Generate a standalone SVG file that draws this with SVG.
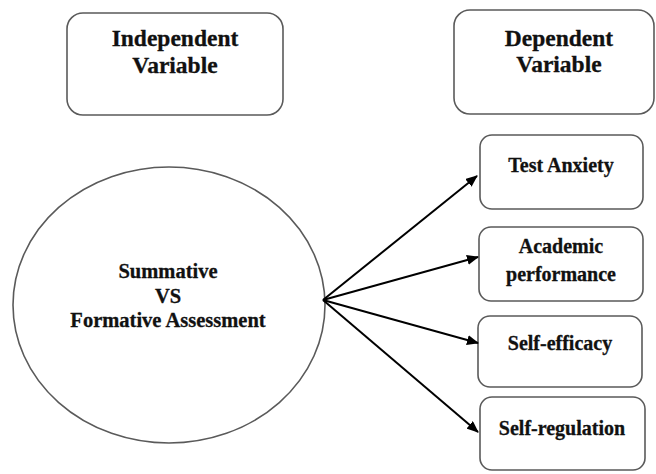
<svg xmlns="http://www.w3.org/2000/svg" width="656" height="474" viewBox="0 0 656 474">
<style>
.box{fill:#fff;stroke:#5a5a5a;stroke-width:1.6}
.t{font-family:"Liberation Serif","Times New Roman",serif;font-weight:bold;fill:#111;text-anchor:middle;stroke:#111;stroke-width:0.3}
.h{font-size:23.5px}
.s{font-size:20px}
.e{font-size:20.5px}
.c{stroke:#000;stroke-width:2;fill:none}
</style>
<defs>
<marker id="ah" viewBox="0 0 12 10" refX="11" refY="5" markerWidth="12" markerHeight="10" markerUnits="userSpaceOnUse" orient="auto">
<path d="M0,0 L12,5 L0,10 Z" fill="#000"/>
</marker>
</defs>
<rect width="656" height="474" fill="#fff"/>
<g id="independent">
<rect class="box" x="67" y="13" width="216" height="102" rx="16"/>
<text class="t h" x="175" y="46">Independent</text>
<text class="t h" x="175" y="73">Variable</text>
</g>
<g id="dependent">
<rect class="box" x="454" y="10" width="200" height="104" rx="16"/>
<text class="t h" x="559" y="46">Dependent</text>
<text class="t h" x="559" y="72">Variable</text>
</g>
<g id="assessment">
<ellipse class="box" cx="169" cy="305" rx="156" ry="138"/>
<text class="t e" x="168" y="278">Summative</text>
<text class="t e" x="168" y="303">VS</text>
<text class="t e" x="168" y="327">Formative Assessment</text>
</g>
<g id="test-anxiety">
<rect class="box" x="480" y="135" width="163" height="74" rx="12"/>
<text class="t s" x="561" y="172">Test Anxiety</text>
</g>
<g id="academic-performance">
<rect class="box" x="479" y="227" width="164" height="74" rx="12"/>
<text class="t s" x="561" y="253">Academic</text>
<text class="t s" x="561" y="281">performance</text>
</g>
<g id="self-efficacy">
<rect class="box" x="478" y="316" width="164" height="71" rx="12"/>
<text class="t s" x="560" y="350">Self-efficacy</text>
</g>
<g id="self-regulation">
<rect class="box" x="480" y="397" width="165" height="73" rx="12"/>
<text class="t s" x="562" y="435">Self-regulation</text>
</g>
<g id="connectors">
<line class="c" x1="323" y1="300" x2="477" y2="176" marker-end="url(#ah)"/>
<line class="c" x1="323" y1="300" x2="478" y2="257" marker-end="url(#ah)"/>
<line class="c" x1="323" y1="300" x2="478" y2="343" marker-end="url(#ah)"/>
<line class="c" x1="323" y1="300" x2="478" y2="432" marker-end="url(#ah)"/>
</g>
</svg>
